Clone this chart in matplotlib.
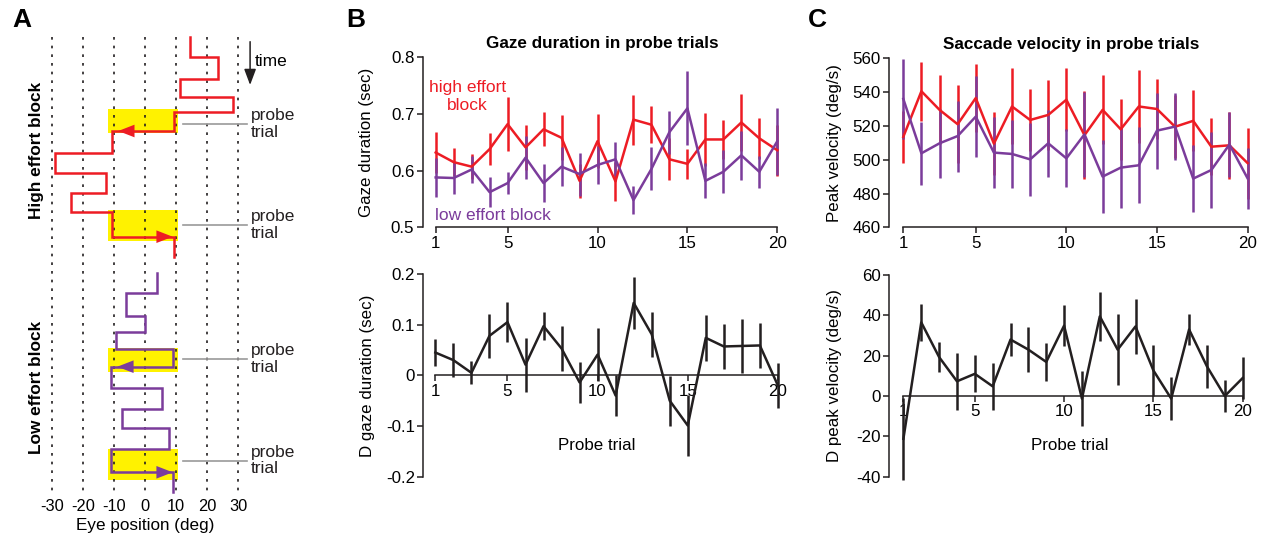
import matplotlib.pyplot as plt
import matplotlib.patches as mpatches
import numpy as np

plt.rcParams['font.family'] = ['Liberation Sans', 'DejaVu Sans']
plt.rcParams['font.size'] = 12
plt.rcParams['axes.unicode_minus'] = False

RED = '#ED1C24'
PURPLE = '#7B3C9B'
BLACK = '#231F20'
YELLOW = '#FFF200'
GRAY = '#9A9A9A'

W, H = 1265, 542

# ---- panel A: example eye traces (time runs downward) ----
eye_grid = [-30, -20, -10, 0, 10, 20, 30]
high_pos = [14.5, 23.5, 11.2, 28.3, 9.3, -10.5, -29, -12.6, -23.7, -10.7, 9.3]
high_t = [37, 57, 79, 97, 112, 131, 152.7, 172.7, 192.7, 211.7, 236.7, 256.7]
low_pos = [3.8, -6.1, 0, -9.4, 9, -11, 5.5, -7.3, 7.7, -11, 9]
low_t = [273.3, 293.3, 315.7, 331.7, 349.3, 366.7, 388.3, 409.3, 428.3, 449.3, 472.3, 492.3]
probe_spans = [(109.3, 132.7), (210, 240.7), (347.7, 371.7), (449.3, 480)]
probe_label_t = [124, 225, 359, 460.7]

# ---- panel B/C data ----
trial = np.arange(1, 21)
gaze_high = [0.632, 0.615, 0.607, 0.638, 0.682, 0.641, 0.673, 0.658, 0.582, 0.652,
             0.581, 0.690, 0.681, 0.620, 0.612, 0.655, 0.655, 0.685, 0.657, 0.636]
gaze_high_err = [0.037, 0.025, 0.022, 0.028, 0.048, 0.040, 0.030, 0.040, 0.030, 0.048,
                 0.035, 0.044, 0.033, 0.037, 0.027, 0.046, 0.034, 0.050, 0.036, 0.045]
gaze_low = [0.588, 0.587, 0.602, 0.562, 0.578, 0.623, 0.578, 0.607, 0.594, 0.610,
            0.620, 0.548, 0.603, 0.668, 0.710, 0.582, 0.598, 0.627, 0.598, 0.652]
gaze_low_err = [0.035, 0.029, 0.023, 0.027, 0.020, 0.038, 0.033, 0.034, 0.038, 0.033,
                0.030, 0.025, 0.038, 0.038, 0.065, 0.031, 0.038, 0.043, 0.028, 0.059]
gaze_diff = [0.045, 0.030, 0.005, 0.078, 0.105, 0.021, 0.097, 0.053, -0.014, 0.041,
             -0.040, 0.143, 0.081, -0.050, -0.099, 0.074, 0.057, 0.058, 0.059, -0.020]
gaze_diff_err = [0.026, 0.033, 0.023, 0.043, 0.039, 0.053, 0.028, 0.045, 0.041, 0.052,
                 0.041, 0.051, 0.044, 0.049, 0.061, 0.046, 0.045, 0.053, 0.045, 0.044]

vel_high = [513.5, 540.5, 529.5, 521, 536.5, 509.5, 531.5, 523.5, 526.5, 535.5,
            514.5, 529.5, 518, 531.5, 530, 519.5, 523, 507.7, 508.5, 498]
vel_high_err = [15.5, 17.5, 20.5, 23, 20, 18.5, 22.5, 18.5, 20.5, 18.5,
                26, 20.5, 18, 21.5, 18, 18.5, 18, 17, 20, 21]
vel_low = [536, 503.8, 509.7, 514, 525.5, 504.2, 503.4, 500.2, 509.7, 500.8,
           515, 490, 495.3, 496.7, 517.2, 519.6, 488.8, 493.9, 509, 489]
vel_low_err = [23.5, 18.5, 20.5, 21, 24, 21, 20, 21.5, 19.7, 17.2,
               25, 21.5, 23.8, 22.5, 22.5, 20, 19.7, 22.2, 19.5, 18.2]
vel_diff = [-21.2, 36.5, 19.3, 7.3, 11, 4.8, 28, 23, 16.9, 34.9,
            -1.3, 39.5, 23, 34.5, 12.7, -1.3, 33, 14.7, 0, 8.9]
vel_diff_err = [20.3, 9.1, 7.5, 14.2, 9.2, 11.8, 8.3, 11.2, 9.5, 10.2,
                13.8, 12, 17.5, 13.7, 12.6, 10.7, 7.7, 10.7, 7.9, 10.6]

trial_ticks = [1, 5, 10, 15, 20]


def px_axes(fig, l, t, r, b):
    return fig.add_axes([l / W, 1 - b / H, (r - l) / W, (b - t) / H])


def step_path(pos, t):
    xs, ys = [], []
    for i, p in enumerate(pos):
        xs += [p, p]
        ys += [t[i], t[i + 1]]
    return xs, ys


def style_axes(ax, ybounds, yticks, zero_axis=False):
    for s in ['top', 'right']:
        ax.spines[s].set_visible(False)
    ax.spines['left'].set_bounds(*ybounds)
    ax.spines['bottom'].set_bounds(1, 20)
    if zero_axis:
        ax.spines['bottom'].set_position(('data', 0))
    for s in ['left', 'bottom']:
        ax.spines[s].set_linewidth(1.1)
        ax.spines[s].set_color(BLACK)
    ax.set_xticks(trial_ticks)
    ax.set_yticks(yticks)
    ax.tick_params(direction='out', length=4, width=1.1, color=BLACK,
                   labelsize=12.2, pad=2)


fig = plt.figure(figsize=(W / 100, H / 100), dpi=100)

# ================= panel A =================
axA = px_axes(fig, 45.5, 33, 244.5, 495)
axA.set_xlim(-32, 32)
axA.set_ylim(495, 33)
for s in axA.spines.values():
    s.set_visible(False)
axA.set_yticks([])
axA.set_xticks(eye_grid)
axA.set_xticklabels([str(v) for v in eye_grid])
axA.tick_params(axis='x', length=0, labelsize=11.8, pad=3)
axA.set_xlabel('Eye position (deg)', fontsize=12.3, labelpad=3)
axA.vlines(eye_grid, 37, 492, colors=BLACK, linewidth=1.2,
           linestyles=(0, (1.6, 3.6)), zorder=2)

for t0, t1 in probe_spans:
    axA.add_patch(mpatches.Rectangle((-11.8, t0), 22.5, t1 - t0,
                                     facecolor=YELLOW, edgecolor='none', zorder=1))

hx, hy = step_path(high_pos, high_t)
axA.plot(hx, hy, color=RED, lw=1.8, zorder=3, solid_joinstyle='miter')
lx, ly = step_path(low_pos, low_t)
axA.plot(lx, ly, color=PURPLE, lw=1.8, zorder=3, solid_joinstyle='miter')

# direction arrows on probe trials
for tip, t, direc, col in [(-8.6, high_t[5], -1, RED), (8.9, high_t[10], 1, RED),
                           (-8.9, low_t[5], -1, PURPLE), (8.9, low_t[10], 1, PURPLE)]:
    axA.annotate('', xy=(tip, t), xytext=(tip - direc * 4, t),
                 arrowprops=dict(arrowstyle='-|>,head_length=0.9,head_width=0.35',
                                 color=col, lw=0, shrinkA=0, shrinkB=0,
                                 mutation_scale=13), zorder=4)

for t in probe_label_t:
    axA.plot([12.3, 32.7], [t, t], color=GRAY, lw=1.2, clip_on=False)
    axA.text(34, t, 'probe\ntrial', ha='left', va='center', fontsize=12.5,
             linespacing=1.1, color=BLACK, clip_on=False)

axA.annotate('', xy=(33.8, 85), xytext=(33.8, 41.7),
             arrowprops=dict(arrowstyle='-|>,head_length=0.8,head_width=0.3',
                             color=BLACK, lw=1.1, shrinkA=0, shrinkB=0,
                             mutation_scale=12), annotation_clip=False)
axA.text(35.3, 62, 'time', ha='left', va='center', fontsize=12.5, clip_on=False)

fig.text(37 / W, 1 - 150 / H, 'High effort block', rotation=90, ha='center',
         va='center', fontsize=12.4, fontweight='bold')
fig.text(37 / W, 1 - 387 / H, 'Low effort block', rotation=90, ha='center',
         va='center', fontsize=12.4, fontweight='bold')

# ================= panel B =================
axB1 = px_axes(fig, 422.7, 57.3, 782.7, 227.3)
axB1.errorbar(trial, gaze_high, yerr=gaze_high_err, color=RED, lw=1.8,
              elinewidth=1.8, capsize=0, clip_on=False)
axB1.errorbar(trial, gaze_low, yerr=gaze_low_err, color=PURPLE, lw=1.8,
              elinewidth=1.8, capsize=0, clip_on=False)
axB1.set_xlim(0.278, 20.3)
axB1.set_ylim(0.5, 0.8)
style_axes(axB1, (0.5, 0.8), [0.5, 0.6, 0.7, 0.8])
axB1.set_yticklabels(['0.5', '0.6', '0.7', '0.8'])
axB1.set_title('Gaze duration in probe trials', fontsize=12.3, fontweight='bold', pad=7)
axB1.set_ylabel('Gaze duration (sec)', fontsize=12.2, va='center')
axB1.yaxis.set_label_coords((367 - 422.7) / 360, 0.5)
axB1.text(2.78, 0.73, 'high effort\nblock', color=RED, ha='center', va='center',
          fontsize=12.5, linespacing=1.25)
axB1.text(0.98, 0.521, 'low effort block', color=PURPLE, ha='left', va='center',
          fontsize=12.5)

axB2 = px_axes(fig, 423.3, 274, 783.3, 476.7)
axB2.errorbar(trial, gaze_diff, yerr=gaze_diff_err, color=BLACK, lw=1.8,
              elinewidth=1.8, capsize=0, clip_on=False)
axB2.set_xlim(0.33, 20.3)
axB2.set_ylim(-0.2, 0.2)
style_axes(axB2, (-0.2, 0.2), [-0.2, -0.1, 0, 0.1, 0.2], zero_axis=True)
axB2.set_yticklabels(['-0.2', '-0.1', '0', '0.1', '0.2'])
axB2.set_ylabel('D gaze duration (sec)', fontsize=12.2, va='center')
axB2.yaxis.set_label_coords((367 - 423.3) / 360, 0.5)
axB2.set_xlabel('Probe trial', fontsize=12.2, va='center')
axB2.xaxis.set_label_coords((597 - 423.3) / 360, (476.7 - 445) / 202.7)

# ================= panel C =================
axC1 = px_axes(fig, 889.3, 58.3, 1253, 227.3)
axC1.errorbar(trial, vel_high, yerr=vel_high_err, color=RED, lw=1.8,
              elinewidth=1.8, capsize=0, clip_on=False)
axC1.errorbar(trial, vel_low, yerr=vel_low_err, color=PURPLE, lw=1.8,
              elinewidth=1.8, capsize=0, clip_on=False)
axC1.set_xlim(0.228, 20.3)
axC1.set_ylim(460, 560)
style_axes(axC1, (460, 560), [460, 480, 500, 520, 540, 560])
axC1.set_title('Saccade velocity in probe trials', fontsize=12.3, fontweight='bold', pad=7)
axC1.set_ylabel('Peak velocity (deg/s)', fontsize=12.2, va='center')
axC1.yaxis.set_label_coords((835 - 889.3) / 363.7, 0.5)

axC2 = px_axes(fig, 889.3, 275, 1248, 476.7)
axC2.errorbar(trial, vel_diff, yerr=vel_diff_err, color=BLACK, lw=1.8,
              elinewidth=1.8, capsize=0, clip_on=False)
axC2.set_xlim(0.21, 20.3)
axC2.set_ylim(-40, 60)
style_axes(axC2, (-40, 60), [-40, -20, 0, 20, 40, 60], zero_axis=True)
axC2.set_ylabel('D peak velocity (deg/s)', fontsize=12.2, va='center')
axC2.yaxis.set_label_coords((835 - 889.3) / 358.7, 0.5)
axC2.set_xlabel('Probe trial', fontsize=12.2, va='center')
axC2.xaxis.set_label_coords((1070 - 889.3) / 358.7, (476.7 - 445) / 201.7)

# panel letters
for lab, x in [('A', 22), ('B', 356), ('C', 817)]:
    fig.text(x / W, 1 - 20 / H, lab, fontsize=19, fontweight='bold',
             ha='center', va='center')

fig.savefig('out.png', dpi=100)
